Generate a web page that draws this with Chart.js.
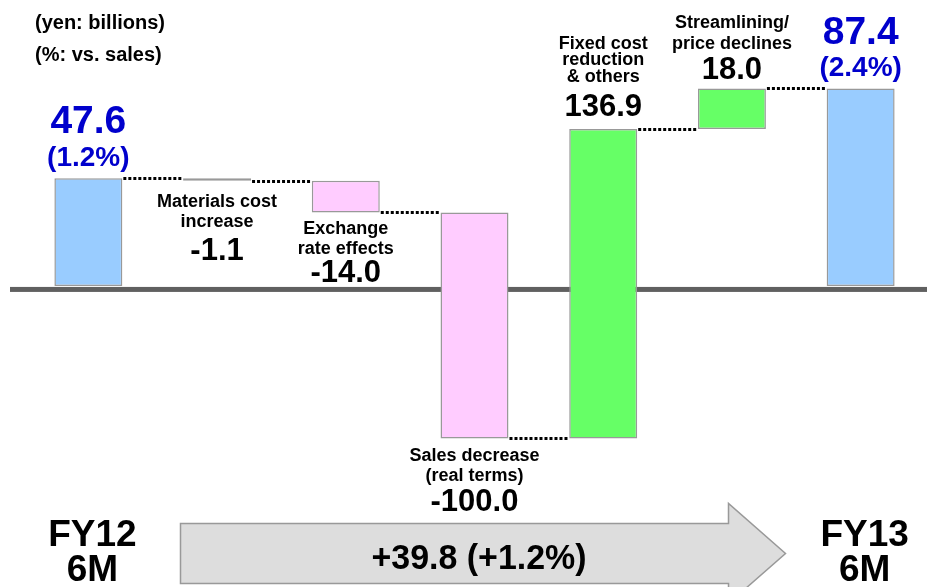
<!DOCTYPE html>
<html>
<head>
<meta charset="utf-8">
<script src="https://cdn.jsdelivr.net/npm/chart.js@4/dist/chart.umd.min.js"></script>
<style>
  html, body { margin: 0; padding: 0; background: #ffffff; }
  #wrap { width: 927px; height: 587px; position: relative; }
</style>
</head>
<body>
<div id="wrap"><canvas id="chart" width="927" height="587"></canvas></div>
<script>
// Operating income bridge, FY12 6M -> FY13 6M (yen: billions)
const categories = [
  ['FY12', '6M'],
  ['Materials cost', 'increase'],
  ['Exchange', 'rate effects'],
  ['Sales decrease', '(real terms)'],
  ['Fixed cost', 'reduction', '& others'],
  ['Streamlining/', 'price declines'],
  ['FY13', '6M']
];
const values = [47.6, -1.1, -14.0, -100.0, 136.9, 18.0, 87.4];
const kinds = ['total', 'delta', 'delta', 'delta', 'delta', 'delta', 'total'];
const salesRatio = [1.2, null, null, null, null, null, 2.4];

// Floating bar ranges: totals from zero, changes from the running level
const ranges = [];
let level = 0;
values.forEach((v, i) => {
  if (kinds[i] === 'total') { ranges.push([0, v]); level = v; }
  else { ranges.push([level, level + v]); level += v; }
});

const COLORS = { total: '#99CCFF', up: '#66FF66', down: '#FFCCFF' };
const barColors = values.map((v, i) => kinds[i] === 'total' ? COLORS.total : (v >= 0 ? COLORS.up : COLORS.down));

const FONT = '"Liberation Sans", Arial, Helvetica, sans-serif';

// where each bar's caption sits relative to the bar
const labelLayout = [
  { side: 'above', numOff: -59, pctOff: -22 },
  { side: 'below', first: 20, gap: 20, numGap: 28 },
  { side: 'below', first: 15.5, gap: 20, numGap: 23 },
  { side: 'below', first: 16.5, gap: 20, numGap: 25 },
  { side: 'above', numOff: -24, lineGap: 16.5, textGap: 30 },
  { side: 'above', numOff: -20.5, lineGap: 21, textGap: 25 },
  { side: 'above', numOff: -58.5, pctOff: -22.5 }
];

function text(ctx, str, x, cy, size, color, sx) {
  sx = sx || 1;
  ctx.save();
  ctx.font = 'bold ' + size + 'px ' + FONT;
  ctx.fillStyle = color;
  ctx.textAlign = 'center';
  ctx.textBaseline = 'alphabetic';
  ctx.translate(x, cy + 0.358 * size);
  ctx.scale(sx, 1);
  ctx.fillText(str, 0, 0);
  ctx.restore();
}

const bridgePlugin = {
  id: 'bridge',
  beforeDatasetsDraw(chart) {
    const ctx = chart.ctx;
    const y0 = chart.scales.y.getPixelForValue(0);
    ctx.save();
    ctx.fillStyle = '#606060';
    ctx.fillRect(10, y0 + 1, chart.width - 10, 5);
    ctx.restore();
  },
  afterDatasetsDraw(chart) {
    const ctx = chart.ctx;
    const ys = chart.scales.y;
    const meta = chart.getDatasetMeta(0);

    // dotted connectors between neighbouring bars
    ctx.save();
    ctx.strokeStyle = '#000000';
    ctx.lineWidth = 3;
    ctx.setLineDash([3, 2]);
    for (let i = 0; i < meta.data.length - 1; i++) {
      const a = meta.data[i], b = meta.data[i + 1];
      const endLevel = ranges[i][1];
      const y = Math.round(ys.getPixelForValue(endLevel)) + 0.5;
      ctx.beginPath();
      ctx.moveTo(a.x + a.width / 2 + 1, y);
      ctx.lineTo(b.x - b.width / 2 - 1, y);
      ctx.stroke();
    }
    ctx.restore();

    // captions
    meta.data.forEach((bar, i) => {
      const L = labelLayout[i];
      const hi = ys.getPixelForValue(Math.max(ranges[i][0], ranges[i][1]));
      const lo = ys.getPixelForValue(Math.min(ranges[i][0], ranges[i][1]));
      const x = bar.x;
      if (kinds[i] === 'total') {
        text(ctx, values[i].toFixed(1), x, hi + L.numOff, 39, '#0000CC');
        text(ctx, '(' + salesRatio[i].toFixed(1) + '%)', x, hi + L.pctOff, 28, '#0000CC');
      } else if (L.side === 'below') {
        const lines = categories[i];
        let y = lo + L.first;
        lines.forEach((s, k) => { text(ctx, s, x, y, 18, '#000000'); if (k < lines.length - 1) y += L.gap; });
        text(ctx, values[i].toFixed(1), x, y + L.numGap, 31, '#000000');
      } else {
        const lines = categories[i];
        const ny = hi + L.numOff;
        text(ctx, values[i].toFixed(1), x, ny, 31, '#000000');
        let y = ny - L.textGap;
        for (let k = lines.length - 1; k >= 0; k--) { text(ctx, lines[k], x, y, 18, '#000000'); y -= L.lineGap; }
      }
    });

    // unit notes
    ctx.save();
    ctx.font = 'bold 20px ' + FONT;
    ctx.fillStyle = '#000000';
    ctx.textAlign = 'left';
    ctx.textBaseline = 'alphabetic';
    ctx.fillText('(yen: billions)', 35, 29);
    ctx.fillText('(%: vs. sales)', 35, 61);
    ctx.restore();

    // period labels under the first and last bars
    [0, values.length - 1].forEach(i => {
      const x = meta.data[i].x + 4;
      text(ctx, categories[i][0], x, 533, 37, '#000000');
      text(ctx, categories[i][1], x, 568, 37, '#000000');
    });

    // overall change arrow
    ctx.save();
    ctx.beginPath();
    ctx.moveTo(180.5, 523.5);
    ctx.lineTo(728.5, 523.5);
    ctx.lineTo(728.5, 503.5);
    ctx.lineTo(785.5, 553.5);
    ctx.lineTo(728.5, 603.5);
    ctx.lineTo(728.5, 583.5);
    ctx.lineTo(180.5, 583.5);
    ctx.closePath();
    ctx.fillStyle = '#DDDDDD';
    ctx.fill();
    ctx.strokeStyle = '#999999';
    ctx.lineWidth = 1.5;
    ctx.stroke();
    ctx.restore();

    const first = values[0], last = values[values.length - 1];
    const diff = last - first;
    const diffPct = salesRatio[salesRatio.length - 1] - salesRatio[0];
    const sgn = v => (v >= 0 ? '+' : '-');
    text(ctx, sgn(diff) + Math.abs(diff).toFixed(1) + ' (' + sgn(diffPct) + Math.abs(diffPct).toFixed(1) + '%)',
         479, 556.5, 35, '#000000', 0.97);
  }
};

new Chart(document.getElementById('chart'), {
  type: 'bar',
  data: {
    labels: categories.map(c => c.join(' ')),
    datasets: [{
      data: ranges,
      backgroundColor: barColors,
      borderColor: '#999999',
      borderWidth: 1.5,
      borderSkipped: false,
      barPercentage: 0.528,
      categoryPercentage: 1.0
    }]
  },
  options: {
    responsive: false,
    animation: false,
    events: [],
    layout: { padding: { left: 24, right: 2, top: 0, bottom: 0 } },
    plugins: { legend: { display: false }, tooltip: { enabled: false } },
    scales: {
      x: { display: false, offset: true, grid: { display: false } },
      y: { display: false, min: -133.2, max: 126.5, grid: { display: false } }
    }
  },
  plugins: [bridgePlugin]
});
</script>
</body>
</html>
